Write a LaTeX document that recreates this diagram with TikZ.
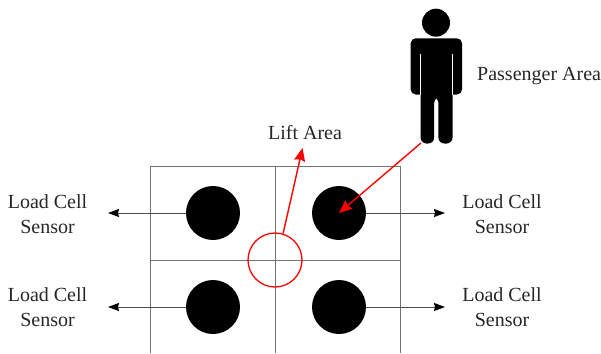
\documentclass[tikz,border=0pt]{standalone}
\usepackage{fontspec}
\setmainfont{Liberation Serif}
\usetikzlibrary{arrows.meta, positioning, calc}
\tikzset{
  sensorbox/.style={circle, fill=black, draw=none, minimum size=54pt, inner sep=0pt},
  liftbox/.style={circle, draw=red, line width=1.3pt, minimum size=54pt, inner sep=0pt},
  lbl/.style={font=\fontsize{20}{25}\selectfont, align=center, inner sep=0pt, text=black!85},
  plateline/.style={draw=black!55, line width=1pt},
  arr/.style={-{Stealth[length=11pt, width=8pt, inset=1pt, color=black]}, line width=0.9pt, draw=black!70},
  redarr/.style={-{Stealth[length=13pt, width=11pt, inset=1.5pt]}, line width=1.4pt, draw=red},
}
\begin{document}
\begin{tikzpicture}[x=1pt, y=-1pt]
\useasboundingbox (0,0) rectangle (601,353);

% --- Plate ---
\draw[plateline] (150,353) -- (150,166) -- (400,166) -- (400,353);
\draw[plateline] (275,166) -- (275,353);
\draw[plateline] (150,260) -- (400,260);

% --- Sensors ---
\node[sensorbox] (sensa) at (213,213) {};
\node[sensorbox] (sensb) at (339,213) {};
\node[sensorbox] (sensc) at (213,307) {};
\node[sensorbox] (sensd) at (339,307) {};
\node[liftbox] (lift) at (275,260) {};

% --- Labels ---
\node[lbl] (loada) at (47.5,214) {Load Cell\\Sensor};
\node[lbl] (loadb) at (502,214) {Load Cell\\Sensor};
\node[lbl] (loadc) at (47.5,307) {Load Cell\\Sensor};
\node[lbl] (loadd) at (502,307) {Load Cell\\Sensor};
\node[lbl] (lifttext) at (305,133) {Lift Area};
\node[lbl, anchor=west] (passtext) at (477,76) {Passenger Area};

% --- Passenger ---
\fill (436,22.7) circle (14);
\fill[rounded corners=5pt] (410.7,94.5) -- (410.7,38.3) -- (462,38.3) -- (462,94.5) -- cycle;
\fill[rounded corners=6pt] (420.5,80) -- (452.5,80) -- (452.5,143.5) -- (438.4,143.5) -- (438.4,97) -- (434.2,97) -- (434.2,143.5) -- (420.5,143.5) -- cycle;
\draw[white, line width=0.9pt] (420.2,54) -- (420.2,95);
\draw[white, line width=0.9pt] (452.6,54) -- (452.6,95);
\coordinate (foot) at (421,143);

% --- Arrows: sensors to labels ---
\coordinate (tipa) at (108,213);
\coordinate (tipb) at (445,213);
\coordinate (tipc) at (108,307);
\coordinate (tipd) at (445,307);
\draw[arr] (sensa.west) -- (tipa);
\draw[arr] (sensb.east) -- (tipb);
\draw[arr] (sensc.west) -- (tipc);
\draw[arr] (sensd.east) -- (tipd);

% --- Red arrows ---
\coordinate (lifttip) at (302.5,148);
\draw[redarr] (lift.73) -- (lifttip);
\draw[redarr] (foot) -- (sensb.center);

\end{tikzpicture}
\end{document}
